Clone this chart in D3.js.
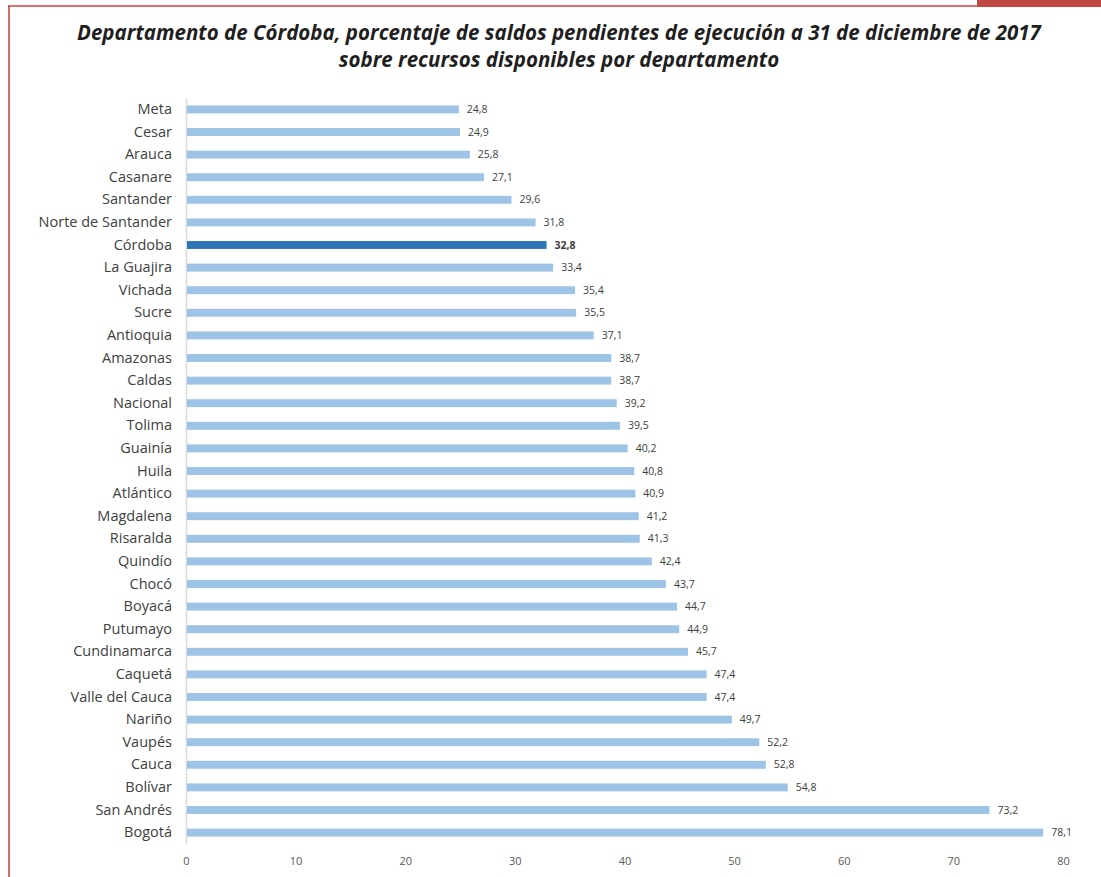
<!DOCTYPE html>
<html>
<head>
<meta charset="utf-8">
<script src="https://d3js.org/d3.v7.min.js"></script>
<style>
  body { margin: 0; background: #fff; }
  svg { display: block; }
</style>
</head>
<body>
<div id="chart"></div>
<script>
var svgWidth = 1101;
var svgHeight = 877;

var departamentos = ["Meta", "Cesar", "Arauca", "Casanare", "Santander", "Norte de Santander",
  "Córdoba", "La Guajira", "Vichada", "Sucre", "Antioquia", "Amazonas", "Caldas", "Nacional",
  "Tolima", "Guainía", "Huila", "Atlántico ", "Magdalena", "Risaralda", "Quindío", "Chocó",
  "Boyacá", "Putumayo", "Cundinamarca", "Caquetá", "Valle del Cauca", "Nariño", "Vaupés",
  "Cauca", "Bolívar", "San Andrés", "Bogotá"];
var porcentajes = [24.8, 24.9, 25.8, 27.1, 29.6, 31.8, 32.8, 33.4, 35.4, 35.5, 37.1, 38.7, 38.7,
  39.2, 39.5, 40.2, 40.8, 40.9, 41.2, 41.3, 42.4, 43.7, 44.7, 44.9, 45.7, 47.4, 47.4, 49.7, 52.2,
  52.8, 54.8, 73.2, 78.1];
var xTicks = [0, 10, 20, 30, 40, 50, 60, 70, 80];
var destacado = "Córdoba";
var titulo = ["Departamento de Córdoba, porcentaje de saldos pendientes de ejecución a 31 de diciembre de 2017",
  "sobre recursos disponibles por departamento"];

var margin = { top: 98, left: 186, right: 36, bottom: 33 };
var width = svgWidth - margin.left - margin.right;
var height = svgHeight - margin.top - margin.bottom;

var svg = d3.select("#chart")
  .append("svg")
  .attr("width", svgWidth)
  .attr("height", svgHeight);

// marco rojo
svg.append("line")
  .attr("x1", 9).attr("x2", 9).attr("y1", 6).attr("y2", svgHeight)
  .attr("stroke", "#cd6f6a").attr("stroke-width", 2);
svg.append("line")
  .attr("x1", 8).attr("x2", 978).attr("y1", 6).attr("y2", 6)
  .attr("stroke", "#d0433c").attr("stroke-width", 1.5);
svg.append("rect")
  .attr("x", 977).attr("y", 0).attr("width", svgWidth - 977).attr("height", 7)
  .attr("fill", "#bf4744");

// titulo
svg.append("text")
  .attr("x", 559).attr("y", 40)
  .attr("text-anchor", "middle")
  .style("font-family", "'Open Sans', sans-serif")
  .style("font-size", "20.5px")
  .style("font-weight", "bold")
  .style("font-style", "italic")
  .attr("fill", "#1f1f1f")
  .selectAll("tspan")
  .data(titulo)
  .enter()
  .append("tspan")
  .attr("x", 559)
  .attr("dy", (d, i) => i === 0 ? 0 : 27)
  .text(d => d);

var chartGroup = svg.append("g")
  .attr("transform", `translate(${margin.left}, ${margin.top})`);

var xScale = d3.scaleLinear()
  .domain([0, 80])
  .range([0, 877]);

var yScale = d3.scaleBand()
  .domain(departamentos)
  .range([0, 746])
  .paddingInner(0.65)
  .paddingOuter(0.33);

// eje x
var bottomAxis = d3.axisBottom(xScale)
  .tickValues(xTicks)
  .tickSize(0)
  .tickPadding(8)
  .tickFormat(d3.format("d"));

var xAxisG = chartGroup.append("g")
  .attr("transform", `translate(0, ${height + 5})`)
  .call(bottomAxis);
xAxisG.select(".domain").remove();
xAxisG.selectAll("text")
  .style("font-family", "'Open Sans', sans-serif")
  .style("font-size", "11px")
  .attr("fill", "#595959");

// eje y
var leftAxis = d3.axisLeft(yScale).tickSize(0).tickPadding(14);
var yAxisG = chartGroup.append("g").call(leftAxis);
yAxisG.select(".domain")
  .attr("stroke", "#d9d9d9")
  .attr("stroke-width", 1.5);
yAxisG.selectAll("text")
  .style("font-family", "'Open Sans', sans-serif")
  .style("font-size", "14.5px")
  .attr("fill", "#404040");

// barras
chartGroup.selectAll("rect.bar")
  .data(departamentos)
  .enter()
  .append("rect")
  .attr("class", "bar")
  .attr("x", xScale(0) + 1)
  .attr("y", d => yScale(d))
  .attr("width", (d, i) => xScale(porcentajes[i]) - xScale(0))
  .attr("height", yScale.bandwidth())
  .attr("fill", d => d === destacado ? "#2e75b6" : "#9dc3e6");

// etiquetas de valor
chartGroup.selectAll("text.valor")
  .data(departamentos)
  .enter()
  .append("text")
  .attr("class", "valor")
  .attr("x", (d, i) => xScale(porcentajes[i]) + 9)
  .attr("y", d => yScale(d) + yScale.bandwidth() / 2)
  .attr("dy", "0.35em")
  .style("font-family", "'Open Sans', sans-serif")
  .style("font-size", "10.5px")
  .style("font-weight", d => d === destacado ? "bold" : "normal")
  .attr("fill", "#404040")
  .text((d, i) => d3.format(".1f")(porcentajes[i]).replace(".", ","));
</script>
</body>
</html>
